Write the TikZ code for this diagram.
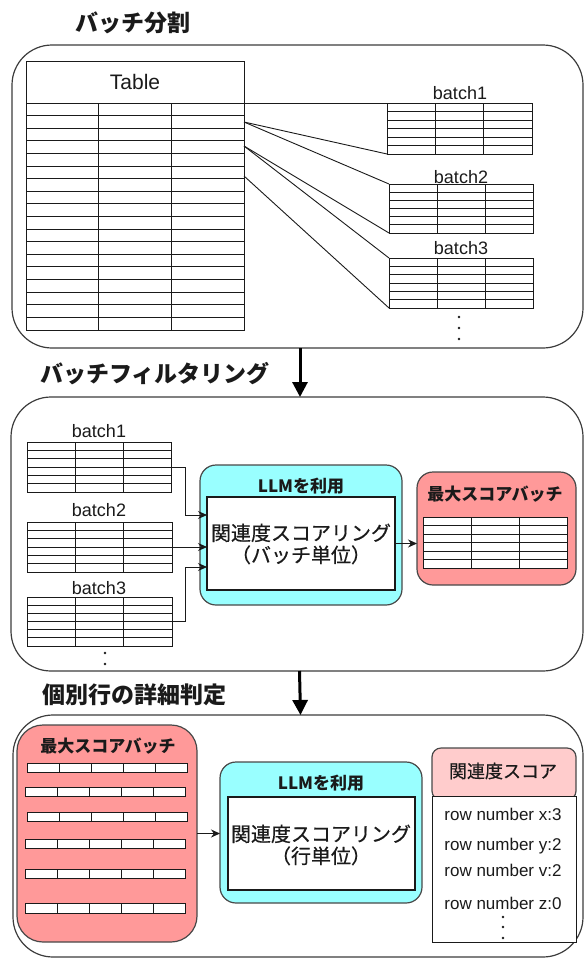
\documentclass[tikz,border=0pt]{standalone}
\usepackage{fontspec}
\setmainfont{Liberation Sans}
\newfontfamily\jp{Noto Sans CJK JP}
\newfontfamily\jpm[FakeBold=0.5]{Noto Sans CJK JP}
\usetikzlibrary{arrows.meta,calc,fit}
\definecolor{cyanbox}{HTML}{99FFFF}
\definecolor{redbox}{HTML}{FF9999}
\definecolor{pinkbox}{HTML}{FFCCCC}
\definecolor{ink}{HTML}{1A1A1A}
\tikzset{
  panel/.style={draw=ink!85, line width=1.2pt, rounded corners=40pt, inner sep=0pt, outer sep=0pt},
  tbl/.style={draw=ink, line width=0.9pt, fill=white, inner sep=0pt, outer sep=0pt},
  gl/.style={draw=ink, line width=0.9pt},
  lnk/.style={draw=ink, line width=0.9pt},
  bigarrow/.style={draw=black, line width=3pt, -{Triangle[width=15pt,length=15pt]}},
  smallarrow/.style={draw=ink, line width=0.9pt, -{Stealth[width=8pt,length=9pt]}},
  llmbox/.style={draw=ink!80, line width=1.2pt, fill=cyanbox, rounded corners=16pt, inner sep=0pt, outer sep=0pt},
  redbx/.style={draw=ink!80, line width=1.2pt, fill=redbox, rounded corners=16pt, inner sep=0pt, outer sep=0pt},
  pinkhead/.style={draw=ink!80, line width=1.2pt, fill=pinkbox, rounded corners=9pt, inner sep=0pt, outer sep=0pt},
  innerbox/.style={draw=ink, line width=1.2pt, fill=white, inner sep=0pt, outer sep=0pt},
  ttl/.style={font={\jp\bfseries\fontsize{23}{26}\selectfont}, text=ink, inner sep=0pt},
  boxttl/.style={font={\jp\bfseries\fontsize{17}{20}\selectfont}, text=ink, inner sep=0pt},
  jptxt/.style={font={\jpm\fontsize{20}{22}\selectfont}, text=ink, inner sep=0pt, align=center},
  lbl/.style={font={\fontsize{18}{20}\selectfont}, text=ink, inner sep=0pt},
  rowtxt/.style={font={\fontsize{17}{20}\selectfont}, text=ink, inner sep=0pt},
  dot/.style={circle, fill=ink, inner sep=0pt, minimum size=2.8pt}
}
\newcommand\gridtable[7]{%
  \node[tbl, fit={(#2,#3)(#4,#5)}] (#1) {};
  \ifnum#6>1
    \pgfmathtruncatemacro\gtnr{#6-1}%
    \foreach \k in {1,...,\gtnr} \draw[gl] ($(#1.north west)!\k/#6!(#1.south west)$) -- ($(#1.north east)!\k/#6!(#1.south east)$);
  \fi
  \pgfmathtruncatemacro\gtnc{#7-1}%
  \foreach \k in {1,...,\gtnc} \draw[gl] ($(#1.north west)!\k/#7!(#1.north east)$) -- ($(#1.south west)!\k/#7!(#1.south east)$);
}
\begin{document}
\begin{tikzpicture}[x=1pt,y=-1pt]
\useasboundingbox (0,0) rectangle (585,959);

% ---------- titles ----------
\node[ttl] (t1) at (133,23) {バッチ分割};
\node[ttl] (t2) at (155,374) {バッチフィルタリング};
\node[ttl] (t3) at (134,695) {個別行の詳細判定};

% ---------- panel 1 ----------
\node[panel, fit={(12,45)(583,348)}] (p1) {};
\node[tbl, fit={(26,61)(244,103)}] (th) {};
\node[font={\fontsize{21}{24}\selectfont}, text=ink] (thtxt) at (th.center) {Table};
\gridtable{tb}{26}{103}{244}{330}{18}{3}

\gridtable{a1}{387}{103}{532}{154}{6}{3}
\gridtable{a2}{389}{184}{533}{233}{6}{3}
\gridtable{a3}{389}{258}{533}{308}{6}{3}
\node[lbl] (la1) at (460,93) {batch1};
\node[lbl] (la2) at (461,177) {batch2};
\node[lbl] (la3) at (461,248) {batch3};

\coordinate (s1) at (244,122);
\coordinate (s2) at (244,146);
\coordinate (s3) at (244,176);
\draw[lnk] (tb.north east) -- (a1.north west);
\draw[lnk] (s1) -- (a1.south west);
\draw[lnk] (s1) -- (a2.north west);
\draw[lnk] (s2) -- (a2.south west);
\draw[lnk] (s2) -- (a3.north west);
\draw[lnk] (s3) -- (a3.south west);
\node[dot] (d11) at (459,317) {};
\node[dot] (d12) at (459,328) {};
\node[dot] (d13) at (459,339) {};

% ---------- panel 2 ----------
\node[panel, fit={(11,397)(583,671)}] (p2) {};
\draw[bigarrow] ([xshift=2.5]p1.south) -- ([xshift=3]p2.north);

\gridtable{q1}{27}{442}{171}{492}{6}{3}
\gridtable{q2}{27}{522}{172}{572}{6}{3}
\gridtable{q3}{27}{597}{172}{646}{6}{3}
\node[lbl] (lq1) at (99,431) {batch1};
\node[lbl] (lq2) at (99,510) {batch2};
\node[lbl] (lq3) at (99,588) {batch3};
\node[dot] (d21) at (105,653) {};
\node[dot] (d22) at (105,664) {};

\node[llmbox, fit={(200,465)(402,605)}] (llm1) {};
\node[innerbox, fit={(207,497)(395,590)}] (in1) {};
\node[boxttl] (llm1t) at (301,486) {LLMを利用};
\node[jptxt] (in1t) at (301,544) {関連度スコアリング\\（バッチ単位）};

\draw[smallarrow] (q1.east) -- ++(14,0) |- ([yshift=28.5]in1.west);
\draw[smallarrow] (q2.east) -- (q2.east -| in1.west);
\draw[smallarrow] (q3.east) -- ++(13,0) |- ([yshift=-23.5]in1.west);

\node[redbx, fit={(417,472)(576,585)}] (mx1) {};
\node[boxttl] (mx1t) at (495,494) {最大スコアバッチ};
\gridtable{mt1}{423}{517}{567}{568}{6}{3}
\draw[smallarrow] (in1.east) -- (in1.east -| mx1.west);

% ---------- panel 3 ----------
\node[panel, fit={(13,715)(583,957)}] (p3) {};
\draw[bigarrow] ([xshift=2.5]p2.south) -- ([xshift=2.5]p3.north);

\node[redbx, rounded corners=26pt, fit={(17,725)(197,942)}] (mx2) {};
\node[boxttl] (mx2t) at (108,746) {最大スコアバッチ};
\gridtable{r1}{27}{763}{187}{772}{1}{5}
\gridtable{r2}{25}{787}{185}{796}{1}{5}
\gridtable{r3}{27}{812}{187}{821}{1}{5}
\gridtable{r4}{25}{839}{185}{848}{1}{5}
\gridtable{r5}{25}{869}{185}{878}{1}{5}
\gridtable{r6}{25}{903}{185}{913}{1}{5}

\node[llmbox, fit={(220,762)(422,903)}] (llm2) {};
\node[innerbox, fit={(228,797)(415,890)}] (in2) {};
\node[boxttl] (llm2t) at (321,783) {LLMを利用};
\node[jptxt] (in2t) at (321,845) {関連度スコアリング\\（行単位）};
\draw[smallarrow] (mx2.east) -- (mx2.east -| llm2.west);

\node[pinkhead, fit={(432,748)(576,800)}] (sh) {};
\node[innerbox, line width=1pt, fit={(432,796)(576,942)}] (sb) {};
\node[font={\jpm\fontsize{18}{20}\selectfont}, text=ink, inner sep=0pt] (sht) at (503,771) {関連度スコア};
\node[rowtxt] (rx) at (503,814) {row number x:3};
\node[rowtxt] (ry) at (503,846) {row number y:2};
\node[rowtxt] (rv) at (503,870) {row number v:2};
\node[rowtxt] (rz) at (503,903) {row number z:0};
\node[dot] (d31) at (503,917) {};
\node[dot] (d32) at (503,927) {};
\node[dot] (d33) at (503,938) {};
\end{tikzpicture}
\end{document}
